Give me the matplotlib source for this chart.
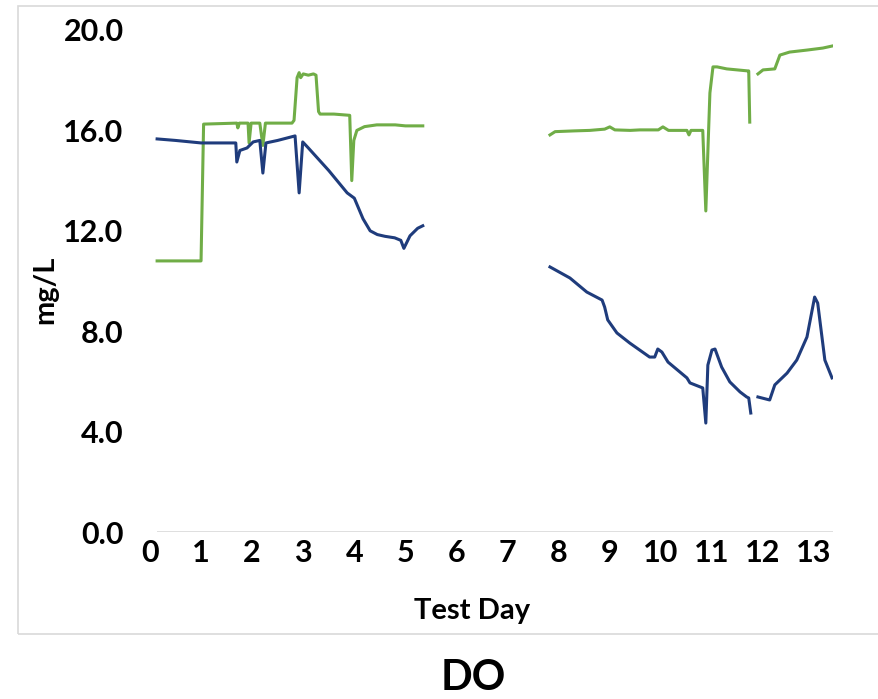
import numpy as np
import matplotlib
matplotlib.use('Agg')
import matplotlib.pyplot as plt
from matplotlib.patches import Rectangle

plt.rcParams['font.family'] = ['Lato', 'DejaVu Sans']

# ---------------------------------------------------------------------------
# data (test day, mg/L); NaN marks a gap in logging
# ---------------------------------------------------------------------------
GREEN_DAY = [0.14, 1.00, 1.05, 1.70, 1.72, 1.75, 1.92, 1.94, 1.98, 2.15, 2.21, 2.26,
             2.78, 2.82, 2.88, 2.92, 2.95, 3.00, 3.10, 3.20, 3.25, 3.30, 3.33, 3.60,
             3.91, 3.95, 3.99, 4.05, 4.20, 4.44, 4.80, 5.00, 5.34,
             np.nan,
             7.83, 7.93, 8.30, 8.61, 8.90, 9.00, 9.10, 9.40, 9.59, 9.95, 10.04, 10.15,
             10.51, 10.55, 10.59, 10.82, 10.88, 10.96, 11.02, 11.10, 11.29, 11.70,
             11.72, 11.74,
             np.nan,
             11.90, 12.00, 12.23, 12.33, 12.52, 12.86, 13.17, 13.35]
GREEN_DO = [10.80, 10.80, 16.25, 16.29, 16.10, 16.29, 16.29, 15.50, 16.29, 16.29, 15.40, 16.29,
            16.29, 16.40, 18.10, 18.30, 18.10, 18.25, 18.20, 18.25, 18.20, 16.75, 16.65, 16.65,
            16.60, 14.00, 15.60, 16.00, 16.15, 16.22, 16.22, 16.18, 16.18,
            np.nan,
            15.82, 15.95, 15.98, 16.00, 16.05, 16.14, 16.02, 16.00, 16.02, 16.02, 16.14, 16.00,
            16.00, 15.82, 16.00, 16.00, 12.79, 17.49, 18.53, 18.53, 18.45, 18.37,
            18.37, 16.33,
            np.nan,
            18.25, 18.41, 18.45, 19.00, 19.12, 19.20, 19.28, 19.36]

BLUE_DAY = [0.14, 0.50, 1.00, 1.50, 1.68, 1.70, 1.76, 1.90, 2.02, 2.15, 2.21, 2.27,
            2.50, 2.84, 2.92, 2.99, 3.10, 3.50, 3.86, 4.00, 4.17, 4.31, 4.45, 4.60,
            4.79, 4.91, 4.97, 5.09, 5.24, 5.34,
            np.nan,
            7.83, 8.22, 8.55, 8.85, 8.90, 8.96, 9.14, 9.39, 9.78, 9.88, 9.94, 10.02,
            10.14, 10.51, 10.57, 10.82, 10.88, 10.92, 11.00, 11.06, 11.19, 11.35,
            11.55, 11.68, 11.72, 11.76,
            np.nan,
            11.90, 12.13, 12.23, 12.47, 12.66, 12.86, 13.01, 13.07, 13.21, 13.35]
BLUE_DO = [15.66, 15.60, 15.50, 15.50, 15.50, 14.74, 15.20, 15.30, 15.54, 15.60, 14.30, 15.50,
           15.60, 15.78, 13.51, 15.54, 15.30, 14.40, 13.51, 13.30, 12.48, 12.00, 11.85, 11.78,
           11.72, 11.62, 11.30, 11.80, 12.10, 12.20,
           np.nan,
           10.56, 10.12, 9.56, 9.24, 8.96, 8.45, 7.93, 7.53, 6.97, 6.97, 7.29, 7.17,
           6.77, 6.14, 5.94, 5.74, 4.34, 6.65, 7.25, 7.29, 6.57, 5.98,
           5.58, 5.38, 5.34, 4.74,
           np.nan,
           5.38, 5.26, 5.86, 6.33, 6.85, 7.77, 9.36, 9.12, 6.85, 6.14]

X_TICKS = list(range(0, 14))
Y_TICKS = [0, 4, 8, 12, 16, 20]

GREEN = '#70AD47'
NAVY = '#1F3C7C'


def main():
    fig = plt.figure(figsize=(8.79, 6.99), dpi=100)
    ax = fig.add_axes([0.1706, 0.2389, 0.7771, 0.7182])

    # light frame around the chart area (runs off the right edge)
    fig.patches.append(Rectangle((0.0205, 0.093), 1.2, 0.898, transform=fig.transFigure,
                                 fill=False, edgecolor='#d9d9d9', linewidth=1.2))

    ax.plot(GREEN_DAY, GREEN_DO, color=GREEN, linewidth=2.2, solid_joinstyle='round')
    ax.plot(BLUE_DAY, BLUE_DO, color=NAVY, linewidth=2.2, solid_joinstyle='round')

    ax.set_xlim(0, 13.37)
    ax.set_ylim(0, 20)
    ax.hlines(0, 0.14, 13.37, color='#d9d9d9', linewidth=1.2, zorder=0)

    for s in ax.spines.values():
        s.set_visible(False)

    ax.set_xticks(X_TICKS)
    ax.set_xticklabels([str(t) for t in X_TICKS], fontsize=22, fontweight='bold')
    ax.set_yticks(Y_TICKS)
    ax.set_yticklabels([f'{t:.1f}' for t in Y_TICKS], fontsize=22, fontweight='bold')
    ax.tick_params(axis='both', length=0)
    ax.tick_params(axis='x', pad=5)
    ax.tick_params(axis='y', pad=19)

    fig.text(0.537, 0.126, 'Test Day', ha='center', va='center',
             fontsize=21, fontweight='bold')
    fig.text(0.051, 0.585, 'mg/L', ha='center', va='center', rotation=90,
             fontsize=21, fontweight='bold')
    fig.text(0.539, 0.030, 'DO', ha='center', va='center',
             fontsize=30, fontweight='bold')

    fig.savefig('out.png', dpi=100)
    plt.close(fig)


if __name__ == '__main__':
    main()
